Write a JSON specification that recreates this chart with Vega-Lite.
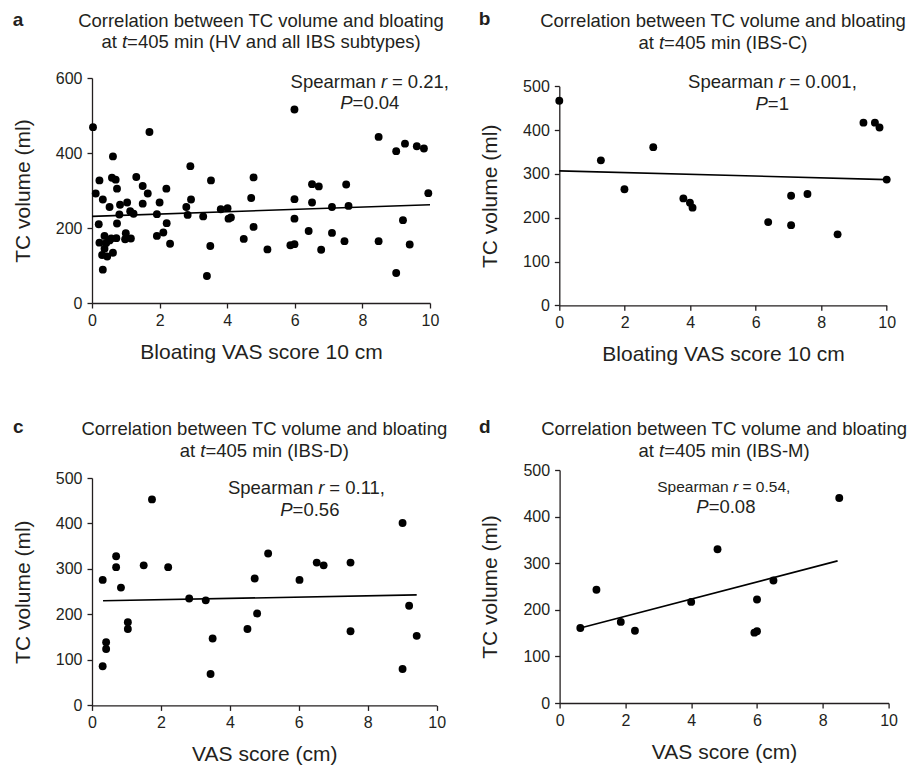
{
  "$schema": "https://vega.github.io/schema/vega-lite/v6.json",
  "background": "white",
  "padding": {"left": 12, "top": 10, "right": 5, "bottom": 5},
  "config": {
    "view": {"stroke": null},
    "font": "Liberation Sans",
    "axis": {"domainColor": "#231f20", "domainWidth": 1.3, "tickColor": "#231f20", "tickWidth": 1.3, "tickSize": 5, "labelColor": "#231f20", "labelFontSize": 16, "labelFont": "Liberation Sans", "titleFont": "Liberation Sans", "titleFontSize": 21, "titleFontWeight": "normal", "titleColor": "#231f20", "grid": false, "labelFlush": false},
    "axisX": {"titlePadding": 13, "labelPadding": 4},
    "axisY": {"titlePadding": 22, "labelPadding": 5},
    "text": {"font": "Liberation Sans", "color": "#231f20"}
  },
  "datasets": {
    "a": [
      {"vas": 0.03, "tc": 469}, {"vas": 1.70, "tc": 456}, {"vas": 0.62, "tc": 391}, {"vas": 0.22, "tc": 327}, {"vas": 0.59, "tc": 334}, {"vas": 0.70, "tc": 329}, {"vas": 1.31, "tc": 336}, {"vas": 2.91, "tc": 365}, {"vas": 3.52, "tc": 327}, {"vas": 4.78, "tc": 335},
      {"vas": 0.11, "tc": 292}, {"vas": 0.74, "tc": 305}, {"vas": 1.50, "tc": 312}, {"vas": 1.65, "tc": 292}, {"vas": 2.20, "tc": 305}, {"vas": 0.32, "tc": 276}, {"vas": 0.52, "tc": 256}, {"vas": 0.83, "tc": 262}, {"vas": 1.04, "tc": 268}, {"vas": 1.50, "tc": 265},
      {"vas": 2.00, "tc": 268}, {"vas": 2.93, "tc": 276}, {"vas": 2.79, "tc": 256}, {"vas": 4.71, "tc": 280}, {"vas": 0.81, "tc": 236}, {"vas": 1.13, "tc": 245}, {"vas": 1.23, "tc": 238}, {"vas": 1.92, "tc": 237}, {"vas": 2.83, "tc": 235}, {"vas": 3.29, "tc": 231},
      {"vas": 3.81, "tc": 250}, {"vas": 4.01, "tc": 253}, {"vas": 4.04, "tc": 225}, {"vas": 4.11, "tc": 228}, {"vas": 0.20, "tc": 210}, {"vas": 0.74, "tc": 212}, {"vas": 2.21, "tc": 213}, {"vas": 4.78, "tc": 203},
      {"vas": 0.37, "tc": 179}, {"vas": 0.22, "tc": 161}, {"vas": 0.42, "tc": 160}, {"vas": 0.52, "tc": 167}, {"vas": 0.57, "tc": 172}, {"vas": 0.37, "tc": 145}, {"vas": 0.30, "tc": 128}, {"vas": 0.45, "tc": 124}, {"vas": 0.62, "tc": 134}, {"vas": 0.72, "tc": 173},
      {"vas": 1.00, "tc": 186}, {"vas": 0.98, "tc": 170}, {"vas": 1.15, "tc": 172}, {"vas": 1.92, "tc": 179}, {"vas": 2.11, "tc": 188}, {"vas": 2.31, "tc": 158}, {"vas": 3.50, "tc": 152}, {"vas": 4.49, "tc": 171}, {"vas": 5.19, "tc": 143}, {"vas": 3.40, "tc": 72}, {"vas": 0.32, "tc": 89},
      {"vas": 5.99, "tc": 516}, {"vas": 8.48, "tc": 443}, {"vas": 9.00, "tc": 405}, {"vas": 9.26, "tc": 425}, {"vas": 9.61, "tc": 418}, {"vas": 9.82, "tc": 412}, {"vas": 9.95, "tc": 293}, {"vas": 6.51, "tc": 317}, {"vas": 6.71, "tc": 311}, {"vas": 7.52, "tc": 316},
      {"vas": 5.99, "tc": 277}, {"vas": 6.51, "tc": 268}, {"vas": 7.10, "tc": 256}, {"vas": 7.59, "tc": 259}, {"vas": 5.99, "tc": 225}, {"vas": 6.41, "tc": 192}, {"vas": 7.10, "tc": 187}, {"vas": 7.47, "tc": 165}, {"vas": 5.87, "tc": 154}, {"vas": 5.99, "tc": 157},
      {"vas": 6.78, "tc": 142}, {"vas": 8.48, "tc": 165}, {"vas": 9.20, "tc": 221}, {"vas": 9.40, "tc": 156}, {"vas": 9.00, "tc": 80}
    ],
    "a_fit": [{"vas": 0, "tc": 231}, {"vas": 10, "tc": 262}],
    "b": [
      {"vas": 0, "tc": 467}, {"vas": 1.27, "tc": 331}, {"vas": 1.99, "tc": 265}, {"vas": 2.87, "tc": 361}, {"vas": 3.79, "tc": 244}, {"vas": 3.99, "tc": 234}, {"vas": 4.07, "tc": 223}, {"vas": 6.38, "tc": 190},
      {"vas": 7.08, "tc": 250}, {"vas": 7.08, "tc": 183}, {"vas": 7.58, "tc": 254}, {"vas": 8.50, "tc": 162}, {"vas": 9.29, "tc": 417}, {"vas": 9.64, "tc": 417}, {"vas": 9.78, "tc": 406}, {"vas": 10.0, "tc": 287}
    ],
    "b_fit": [{"vas": 0, "tc": 307}, {"vas": 10, "tc": 287}],
    "c": [
      {"vas": 0.31, "tc": 276}, {"vas": 0.31, "tc": 86}, {"vas": 0.41, "tc": 139}, {"vas": 0.41, "tc": 124}, {"vas": 0.70, "tc": 328}, {"vas": 0.70, "tc": 304}, {"vas": 0.84, "tc": 259}, {"vas": 1.04, "tc": 183}, {"vas": 1.04, "tc": 168}, {"vas": 1.50, "tc": 308},
      {"vas": 1.74, "tc": 453}, {"vas": 2.21, "tc": 304}, {"vas": 2.82, "tc": 235}, {"vas": 3.30, "tc": 231}, {"vas": 3.44, "tc": 69}, {"vas": 3.50, "tc": 147}, {"vas": 4.51, "tc": 168}, {"vas": 4.72, "tc": 279}, {"vas": 4.79, "tc": 202}, {"vas": 5.11, "tc": 334},
      {"vas": 6.02, "tc": 276}, {"vas": 6.52, "tc": 314}, {"vas": 6.72, "tc": 308}, {"vas": 7.50, "tc": 314}, {"vas": 7.50, "tc": 163}, {"vas": 9.01, "tc": 401}, {"vas": 9.01, "tc": 80}, {"vas": 9.20, "tc": 219}, {"vas": 9.42, "tc": 153}
    ],
    "c_fit": [{"vas": 0.32, "tc": 230}, {"vas": 9.42, "tc": 243}],
    "d": [
      {"vas": 0.63, "tc": 161}, {"vas": 1.12, "tc": 243}, {"vas": 1.86, "tc": 174}, {"vas": 2.29, "tc": 155}, {"vas": 4.00, "tc": 217}, {"vas": 4.80, "tc": 330}, {"vas": 5.92, "tc": 151}, {"vas": 6.00, "tc": 154}, {"vas": 6.00, "tc": 222}, {"vas": 6.50, "tc": 263}, {"vas": 8.50, "tc": 440}
    ],
    "d_fit": [{"vas": 0.63, "tc": 161}, {"vas": 8.45, "tc": 305}]
  },
  "spacing": 52,
  "vconcat": [
    {
      "hconcat": [
        {
          "width": 338, "height": 225,
          "layer": [
            {"data": {"name": "a"}, "mark": {"type": "circle", "size": 62, "color": "#000", "opacity": 1},
             "encoding": {
               "x": {"field": "vas", "type": "quantitative", "scale": {"domain": [0, 10], "nice": false, "zero": false}, "axis": {"values": [0, 2, 4, 6, 8, 10]}, "title": "Bloating VAS score 10 cm"},
               "y": {"field": "tc", "type": "quantitative", "scale": {"domain": [0, 600], "nice": false}, "axis": {"values": [0, 200, 400, 600]}, "title": "TC volume (ml)"}}},
            {"data": {"name": "a_fit"}, "mark": {"type": "line", "color": "#000", "strokeWidth": 1.6},
             "encoding": {"x": {"field": "vas", "type": "quantitative", "title": "Bloating VAS score 10 cm"}, "y": {"field": "tc", "type": "quantitative", "title": "TC volume (ml)"}}},
            {"data": {"values": [{}]}, "mark": {"type": "text", "text": "Correlation between TC volume and bloating", "align": "center", "baseline": "middle", "fontSize": 18.5}, "encoding": {"x": {"datum": 5}, "y": {"datum": 752}}},
            {"data": {"values": [{}]}, "mark": {"type": "text", "text": "at", "align": "left", "baseline": "middle", "fontSize": 18.5, "dx": -159.6}, "encoding": {"x": {"datum": 5}, "y": {"datum": 695}}},
            {"data": {"values": [{}]}, "mark": {"type": "text", "text": "t", "align": "left", "baseline": "middle", "fontSize": 18.5, "fontStyle": "italic", "dx": -139.1}, "encoding": {"x": {"datum": 5}, "y": {"datum": 695}}},
            {"data": {"values": [{}]}, "mark": {"type": "text", "text": "=405 min (HV and all IBS subtypes)", "align": "left", "baseline": "middle", "fontSize": 18.5, "dx": -133.9}, "encoding": {"x": {"datum": 5}, "y": {"datum": 695}}},
            {"data": {"values": [{}]}, "mark": {"type": "text", "text": "Spearman", "align": "right", "baseline": "middle", "fontSize": 18.5}, "encoding": {"x": {"datum": 8.40}, "y": {"datum": 589}}},
            {"data": {"values": [{}]}, "mark": {"type": "text", "text": "r", "align": "left", "baseline": "middle", "fontSize": 18.5, "fontStyle": "italic", "dx": 5}, "encoding": {"x": {"datum": 8.40}, "y": {"datum": 589}}},
            {"data": {"values": [{}]}, "mark": {"type": "text", "text": "= 0.21,", "align": "left", "baseline": "middle", "fontSize": 18.5, "dx": 16}, "encoding": {"x": {"datum": 8.40}, "y": {"datum": 589}}},
            {"data": {"values": [{}]}, "mark": {"type": "text", "text": "P", "align": "right", "baseline": "middle", "fontSize": 18.5, "fontStyle": "italic"}, "encoding": {"x": {"datum": 7.71}, "y": {"datum": 533}}},
            {"data": {"values": [{}]}, "mark": {"type": "text", "text": "=0.04", "align": "left", "baseline": "middle", "fontSize": 18.5}, "encoding": {"x": {"datum": 7.71}, "y": {"datum": 533}}},
            {"data": {"values": [{}]}, "mark": {"type": "text", "text": "a", "align": "center", "baseline": "alphabetic", "fontSize": 19, "fontWeight": "bold"}, "encoding": {"x": {"datum": -2.19}, "y": {"datum": 740}}}
          ]
        },
        {
          "width": 327.4, "height": 227.3,
          "layer": [
            {"data": {"name": "b"}, "mark": {"type": "circle", "size": 62, "color": "#000", "opacity": 1},
             "encoding": {
               "x": {"field": "vas", "type": "quantitative", "scale": {"domain": [0, 10], "nice": false, "zero": false}, "axis": {"values": [0, 2, 4, 6, 8, 10]}, "title": "Bloating VAS score 10 cm"},
               "y": {"field": "tc", "type": "quantitative", "scale": {"domain": [0, 500], "nice": false, "range": [227.3, 8.3]}, "axis": {"values": [0, 100, 200, 300, 400, 500]}, "title": "TC volume (ml)"}}},
            {"data": {"name": "b_fit"}, "mark": {"type": "line", "color": "#000", "strokeWidth": 1.6},
             "encoding": {"x": {"field": "vas", "type": "quantitative", "title": "Bloating VAS score 10 cm"}, "y": {"field": "tc", "type": "quantitative", "title": "TC volume (ml)"}}},
            {"data": {"values": [{}]}, "mark": {"type": "text", "text": "Correlation between TC volume and bloating", "align": "center", "baseline": "middle", "fontSize": 18.5}, "encoding": {"x": {"datum": 5}, "y": {"datum": 649}}},
            {"data": {"values": [{}]}, "mark": {"type": "text", "text": "at", "align": "left", "baseline": "middle", "fontSize": 18.5, "dx": -84.6}, "encoding": {"x": {"datum": 5}, "y": {"datum": 600}}},
            {"data": {"values": [{}]}, "mark": {"type": "text", "text": "t", "align": "left", "baseline": "middle", "fontSize": 18.5, "fontStyle": "italic", "dx": -64.0}, "encoding": {"x": {"datum": 5}, "y": {"datum": 600}}},
            {"data": {"values": [{}]}, "mark": {"type": "text", "text": "=405 min (IBS-C)", "align": "left", "baseline": "middle", "fontSize": 18.5, "dx": -58.9}, "encoding": {"x": {"datum": 5}, "y": {"datum": 600}}},
            {"data": {"values": [{}]}, "mark": {"type": "text", "text": "Spearman", "align": "right", "baseline": "middle", "fontSize": 18.5}, "encoding": {"x": {"datum": 6.54}, "y": {"datum": 510}}},
            {"data": {"values": [{}]}, "mark": {"type": "text", "text": "r", "align": "left", "baseline": "middle", "fontSize": 18.5, "fontStyle": "italic", "dx": 5}, "encoding": {"x": {"datum": 6.54}, "y": {"datum": 510}}},
            {"data": {"values": [{}]}, "mark": {"type": "text", "text": "= 0.001,", "align": "left", "baseline": "middle", "fontSize": 18.5, "dx": 16}, "encoding": {"x": {"datum": 6.54}, "y": {"datum": 510}}},
            {"data": {"values": [{}]}, "mark": {"type": "text", "text": "P", "align": "right", "baseline": "middle", "fontSize": 18.5, "fontStyle": "italic"}, "encoding": {"x": {"datum": 6.37}, "y": {"datum": 459}}},
            {"data": {"values": [{}]}, "mark": {"type": "text", "text": "=1", "align": "left", "baseline": "middle", "fontSize": 18.5}, "encoding": {"x": {"datum": 6.37}, "y": {"datum": 459}}},
            {"data": {"values": [{}]}, "mark": {"type": "text", "text": "b", "align": "center", "baseline": "alphabetic", "fontSize": 19, "fontWeight": "bold"}, "encoding": {"x": {"datum": -2.28}, "y": {"datum": 639}}}
          ]
        }
      ],
      "spacing": 129.3,
      "bounds": "flush"
    },
    {
      "hconcat": [
        {
          "width": 344.7, "height": 235.4,
          "layer": [
            {"data": {"name": "c"}, "mark": {"type": "circle", "size": 62, "color": "#000", "opacity": 1},
             "encoding": {
               "x": {"field": "vas", "type": "quantitative", "scale": {"domain": [0, 10], "nice": false, "zero": false}, "axis": {"values": [0, 2, 4, 6, 8, 10]}, "title": "VAS score (cm)"},
               "y": {"field": "tc", "type": "quantitative", "scale": {"domain": [0, 500], "nice": false, "range": [235.4, 8]}, "axis": {"values": [0, 100, 200, 300, 400, 500]}, "title": "TC volume (ml)"}}},
            {"data": {"name": "c_fit"}, "mark": {"type": "line", "color": "#000", "strokeWidth": 1.6},
             "encoding": {"x": {"field": "vas", "type": "quantitative", "title": "VAS score (cm)"}, "y": {"field": "tc", "type": "quantitative", "title": "TC volume (ml)"}}},
            {"data": {"values": [{}]}, "mark": {"type": "text", "text": "Correlation between TC volume and bloating", "align": "center", "baseline": "middle", "fontSize": 18.5}, "encoding": {"x": {"datum": 5}, "y": {"datum": 608}}},
            {"data": {"values": [{}]}, "mark": {"type": "text", "text": "at", "align": "left", "baseline": "middle", "fontSize": 18.5, "dx": -84.6}, "encoding": {"x": {"datum": 5}, "y": {"datum": 560}}},
            {"data": {"values": [{}]}, "mark": {"type": "text", "text": "t", "align": "left", "baseline": "middle", "fontSize": 18.5, "fontStyle": "italic", "dx": -64.0}, "encoding": {"x": {"datum": 5}, "y": {"datum": 560}}},
            {"data": {"values": [{}]}, "mark": {"type": "text", "text": "=405 min (IBS-D)", "align": "left", "baseline": "middle", "fontSize": 18.5, "dx": -58.9}, "encoding": {"x": {"datum": 5}, "y": {"datum": 560}}},
            {"data": {"values": [{}]}, "mark": {"type": "text", "text": "Spearman", "align": "right", "baseline": "middle", "fontSize": 18.5}, "encoding": {"x": {"datum": 6.42}, "y": {"datum": 478}}},
            {"data": {"values": [{}]}, "mark": {"type": "text", "text": "r", "align": "left", "baseline": "middle", "fontSize": 18.5, "fontStyle": "italic", "dx": 5}, "encoding": {"x": {"datum": 6.42}, "y": {"datum": 478}}},
            {"data": {"values": [{}]}, "mark": {"type": "text", "text": "= 0.11,", "align": "left", "baseline": "middle", "fontSize": 18.5, "dx": 16}, "encoding": {"x": {"datum": 6.42}, "y": {"datum": 478}}},
            {"data": {"values": [{}]}, "mark": {"type": "text", "text": "P", "align": "right", "baseline": "middle", "fontSize": 18.5, "fontStyle": "italic"}, "encoding": {"x": {"datum": 5.82}, "y": {"datum": 430}}},
            {"data": {"values": [{}]}, "mark": {"type": "text", "text": "=0.56", "align": "left", "baseline": "middle", "fontSize": 18.5}, "encoding": {"x": {"datum": 5.82}, "y": {"datum": 430}}},
            {"data": {"values": [{}]}, "mark": {"type": "text", "text": "c", "align": "center", "baseline": "alphabetic", "fontSize": 19, "fontWeight": "bold"}, "encoding": {"x": {"datum": -2.14}, "y": {"datum": 600}}}
          ]
        },
        {
          "width": 329, "height": 233,
          "layer": [
            {"data": {"name": "d"}, "mark": {"type": "circle", "size": 62, "color": "#000", "opacity": 1},
             "encoding": {
               "x": {"field": "vas", "type": "quantitative", "scale": {"domain": [0, 10], "nice": false, "zero": false}, "axis": {"values": [0, 2, 4, 6, 8, 10]}, "title": "VAS score (cm)"},
               "y": {"field": "tc", "type": "quantitative", "scale": {"domain": [0, 500], "nice": false}, "axis": {"values": [0, 100, 200, 300, 400, 500]}, "title": "TC volume (ml)"}}},
            {"data": {"name": "d_fit"}, "mark": {"type": "line", "color": "#000", "strokeWidth": 1.6},
             "encoding": {"x": {"field": "vas", "type": "quantitative", "title": "VAS score (cm)"}, "y": {"field": "tc", "type": "quantitative", "title": "TC volume (ml)"}}},
            {"data": {"values": [{}]}, "mark": {"type": "text", "text": "Correlation between TC volume and bloating", "align": "center", "baseline": "middle", "fontSize": 18.5}, "encoding": {"x": {"datum": 5}, "y": {"datum": 589}}},
            {"data": {"values": [{}]}, "mark": {"type": "text", "text": "at", "align": "left", "baseline": "middle", "fontSize": 18.5, "dx": -85.6}, "encoding": {"x": {"datum": 5}, "y": {"datum": 541}}},
            {"data": {"values": [{}]}, "mark": {"type": "text", "text": "t", "align": "left", "baseline": "middle", "fontSize": 18.5, "fontStyle": "italic", "dx": -65.0}, "encoding": {"x": {"datum": 5}, "y": {"datum": 541}}},
            {"data": {"values": [{}]}, "mark": {"type": "text", "text": "=405 min (IBS-M)", "align": "left", "baseline": "middle", "fontSize": 18.5, "dx": -59.9}, "encoding": {"x": {"datum": 5}, "y": {"datum": 541}}},
            {"data": {"values": [{}]}, "mark": {"type": "text", "text": "Spearman", "align": "right", "baseline": "middle", "fontSize": 15.5}, "encoding": {"x": {"datum": 5.14}, "y": {"datum": 463}}},
            {"data": {"values": [{}]}, "mark": {"type": "text", "text": "r", "align": "left", "baseline": "middle", "fontSize": 15.5, "fontStyle": "italic", "dx": 4.3}, "encoding": {"x": {"datum": 5.14}, "y": {"datum": 463}}},
            {"data": {"values": [{}]}, "mark": {"type": "text", "text": "= 0.54,", "align": "left", "baseline": "middle", "fontSize": 15.5, "dx": 13.8}, "encoding": {"x": {"datum": 5.14}, "y": {"datum": 463}}},
            {"data": {"values": [{}]}, "mark": {"type": "text", "text": "P", "align": "right", "baseline": "middle", "fontSize": 18.5, "fontStyle": "italic"}, "encoding": {"x": {"datum": 4.53}, "y": {"datum": 420}}},
            {"data": {"values": [{}]}, "mark": {"type": "text", "text": "=0.08", "align": "left", "baseline": "middle", "fontSize": 18.5}, "encoding": {"x": {"datum": 4.53}, "y": {"datum": 420}}},
            {"data": {"values": [{}]}, "mark": {"type": "text", "text": "d", "align": "center", "baseline": "alphabetic", "fontSize": 19, "fontWeight": "bold"}, "encoding": {"x": {"datum": -2.27}, "y": {"datum": 579}}}
          ]
        }
      ],
      "spacing": 122.6,
      "bounds": "flush"
    }
  ]
}
